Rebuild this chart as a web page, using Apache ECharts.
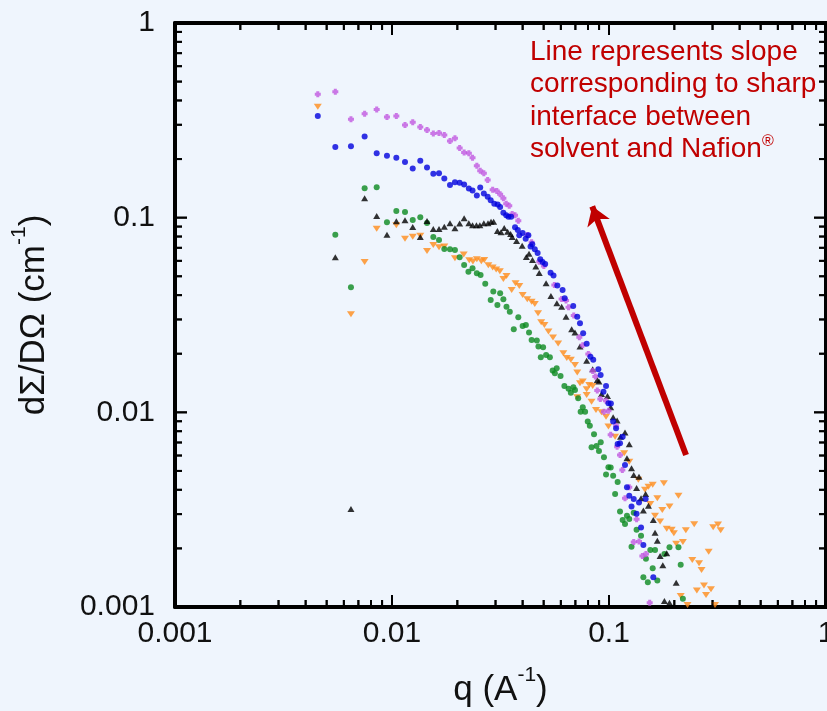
<!DOCTYPE html>
<html>
<head>
<meta charset="utf-8">
<script src="https://cdn.jsdelivr.net/npm/echarts@6/dist/echarts.min.js"></script>
<style>
  html, body { margin: 0; padding: 0; background: #eff5fd; }
  #chart { width: 827px; height: 711px; }
</style>
</head>
<body>
<div id="chart"></div>
<script>
// tick values / labels (log axes)
var xTickValues = [0.001, 0.01, 0.1, 1];
var xTickLabels = ['0.001', '0.01', '0.1', '1'];
var yTickValues = [0.001, 0.01, 0.1, 1];
var yTickLabels = ['0.001', '0.01', '0.1', '1'];

// [q, dSigma/dOmega]
var purpleData = [
  [0.00455,0.430],[0.00548,0.444],[0.00647,0.320],[0.00748,0.342],[0.0085,0.359],[0.00948,0.329],
  [0.01047,0.333],[0.01148,0.299],[0.01246,0.309],[0.0135,0.292],[0.0145,0.282],[0.0155,0.271],
  [0.01647,0.272],[0.01742,0.266],[0.0185,0.248],[0.0195,0.256],[0.0205,0.228],[0.0215,0.216],
  [0.0226,0.214],[0.0235,0.203],[0.0246,0.185],[0.0255,0.174],[0.0265,0.169],[0.0276,0.156],
  [0.0291,0.139],[0.0304,0.137],[0.0315,0.132],[0.0326,0.126],[0.0336,0.118],[0.0347,0.115],
  [0.0358,0.1045],[0.0369,0.103],[0.0382,0.0965],[0.042,0.0815],[0.044,0.0747],[0.0477,0.0594],
  [0.0501,0.0565],[0.056,0.0451],[0.0605,0.0382],[0.0634,0.0375],[0.0651,0.0347],[0.0688,0.0314],
  [0.073,0.0243],[0.0757,0.0221],[0.0803,0.01995],[0.0841,0.0163],[0.0865,0.01526],[0.0883,0.01293],
  [0.0912,0.01172],[0.0969,0.01148],[0.0948,0.01008],[0.0994,0.0102],[0.1018,0.00766],[0.1078,0.00852],
  [0.109,0.00666],[0.1124,0.00604],[0.1152,0.00506],[0.124,0.00412],[0.1185,0.00362],[0.134,0.00282],
  [0.130,0.00216],[0.1375,0.00217],[0.148,0.001874],[0.1425,0.00183],[0.154,0.001053]
];
var blueData = [
  [0.00455,0.333],[0.00548,0.231],[0.00647,0.233],[0.00748,0.261],[0.0085,0.214],[0.00948,0.208],
  [0.01047,0.203],[0.01148,0.193],[0.01246,0.179],[0.0135,0.196],[0.0145,0.181],[0.0155,0.168],
  [0.01647,0.169],[0.01742,0.159],[0.0185,0.147],[0.0195,0.152],[0.0205,0.151],[0.0215,0.148],
  [0.0226,0.141],[0.0235,0.138],[0.0246,0.130],[0.0255,0.143],[0.0265,0.133],[0.0276,0.128],
  [0.0285,0.123],[0.0296,0.118],[0.0307,0.117],[0.0315,0.1135],[0.0326,0.106],[0.0336,0.103],
  [0.0344,0.101],[0.0354,0.101],[0.0369,0.0893],[0.038,0.0865],[0.0386,0.0812],[0.04,0.0834],
  [0.0413,0.078],[0.0425,0.0812],[0.0435,0.071],[0.0443,0.073],[0.0455,0.0688],[0.0469,0.0659],
  [0.0482,0.0611],[0.0494,0.0592],[0.0508,0.0578],[0.0538,0.0522],[0.0555,0.0504],[0.0578,0.0448],
  [0.0611,0.0425],[0.0625,0.0385],[0.0684,0.0352],[0.0714,0.031],[0.0735,0.0287],[0.076,0.0255],
  [0.0789,0.0225],[0.0821,0.0193],[0.0846,0.0186],[0.0893,0.01665],[0.0915,0.01556],[0.0969,0.01366],
  [0.0943,0.01277],[0.0994,0.01113],[0.102,0.0111],[0.1045,0.00896],[0.1078,0.00829],[0.1156,0.0075],
  [0.1124,0.00694],[0.1096,0.00688],[0.1185,0.00537],[0.121,0.00412],[0.124,0.00373],[0.130,0.00359],
  [0.1375,0.00344],[0.1475,0.00359],[0.127,0.00328],[0.134,0.00301],[0.1405,0.00256],[0.144,0.00208],
  [0.160,0.00142]
];
var blackData = [
  [0.00548,0.0626],[0.00647,0.00319],[0.00748,0.1258],[0.0085,0.102],[0.00948,0.0818],[0.01047,0.0958],
  [0.01148,0.097],[0.01246,0.0896],[0.0135,0.0796],[0.0145,0.0961],[0.0155,0.0875],[0.01647,0.0875],
  [0.01742,0.0899],[0.0185,0.0936],[0.0195,0.0882],[0.0205,0.0932],[0.0215,0.0993],[0.0226,0.0936],
  [0.0235,0.0914],[0.0245,0.0914],[0.0254,0.0914],[0.0265,0.0936],[0.0277,0.0936],[0.0286,0.0954],
  [0.0294,0.0954],[0.0306,0.0855],[0.0318,0.0841],[0.0329,0.0886],[0.0341,0.0847],[0.0352,0.0825],
  [0.0358,0.0796],[0.0375,0.0759],[0.0398,0.0718],[0.0416,0.0628],[0.0428,0.0653],[0.0444,0.0606],
  [0.046,0.0562],[0.0477,0.052],[0.0513,0.046],[0.054,0.0396],[0.0575,0.0363],[0.0605,0.0349],
  [0.0634,0.031],[0.0673,0.0267],[0.0697,0.0257],[0.0735,0.0218],[0.0789,0.0184],[0.0841,0.01665],
  [0.0883,0.01467],[0.0899,0.01438],[0.0924,0.01243],[0.0984,0.01214],[0.1018,0.01062],[0.1045,0.00944],
  [0.109,0.00907],[0.1185,0.00787],[0.113,0.0075],[0.124,0.00686],[0.121,0.00581],[0.127,0.00516],
  [0.130,0.00477],[0.1375,0.00467],[0.134,0.00408],[0.1475,0.00381],[0.1405,0.00362],[0.152,0.00331],
  [0.144,0.00313],[0.160,0.0028],[0.163,0.00241],[0.167,0.00219],[0.1845,0.00189],[0.172,0.00183],
  [0.177,0.00164],[0.204,0.001334],[0.18,0.001075],[0.19,0.001053]
];
var greenData = [
  [0.00548,0.0818],[0.00647,0.0439],[0.00748,0.1416],[0.0085,0.1432],[0.00948,0.0947],[0.01047,0.1082],
  [0.01148,0.107],[0.01246,0.0973],[0.0135,0.1005],[0.0145,0.0939],[0.0155,0.0796],[0.01647,0.0768],
  [0.01742,0.0691],[0.0185,0.0689],[0.0195,0.0683],[0.0205,0.0626],[0.0215,0.0572],[0.0225,0.0528],
  [0.0235,0.055],[0.0246,0.0518],[0.0256,0.0507],[0.0269,0.0457],[0.0285,0.0378],[0.0293,0.0417],
  [0.0306,0.0356],[0.0315,0.0409],[0.0326,0.0381],[0.0337,0.0349],[0.0349,0.0329],[0.0364,0.0267],
  [0.0382,0.0308],[0.04,0.0278],[0.0414,0.0281],[0.0428,0.0257],[0.044,0.0235],[0.0465,0.0234],
  [0.0473,0.0218],[0.0485,0.0192],[0.0497,0.0216],[0.0513,0.0197],[0.0534,0.0192],[0.055,0.01638],
  [0.0563,0.01588],[0.0574,0.01684],[0.0598,0.01538],[0.0623,0.01366],[0.0651,0.01323],[0.0667,0.01262],
  [0.0685,0.01345],[0.0697,0.01303],[0.0721,0.01181],[0.0757,0.01062],[0.074,0.01008],[0.0776,0.01008],
  [0.0798,0.00896],[0.0816,0.00852],[0.0853,0.00772],[0.0916,0.00702],[0.0876,0.00672],[0.0831,0.00662],
  [0.0899,0.00633],[0.0948,0.00588],[0.0994,0.00522],[0.1018,0.0052],[0.1045,0.00473],[0.0969,0.00479],
  [0.1096,0.00439],[0.1067,0.00381],[0.1124,0.00309],[0.1156,0.0028],[0.121,0.00294],[0.124,0.00283],
  [0.1185,0.00267],[0.130,0.00305],[0.134,0.00249],[0.1405,0.00232],[0.127,0.00204],[0.148,0.00177],
  [0.155,0.00196],[0.163,0.00196],[0.18,0.00187],[0.19,0.00203],[0.209,0.00203],[0.214,0.00165],
  [0.159,0.00158],[0.144,0.00142],[0.151,0.00134],[0.167,0.00137],[0.219,0.001104]
];
var orangeData = [
  [0.00455,0.3716],[0.00647,0.0319],[0.00748,0.0592],[0.0085,0.0878],[0.01047,0.0914],[0.01148,0.0779],
  [0.01246,0.0799],[0.0135,0.0808],[0.0145,0.0675],[0.0155,0.0724],[0.01647,0.0705],[0.01742,0.0711],
  [0.0195,0.0619],[0.0214,0.0646],[0.0227,0.0605],[0.0236,0.0596],[0.0246,0.0612],[0.0258,0.0597],
  [0.0266,0.0606],[0.0278,0.057],[0.0291,0.0555],[0.0302,0.0541],[0.0314,0.0531],[0.0326,0.0484],
  [0.0337,0.0502],[0.0356,0.0425],[0.0371,0.046],[0.0386,0.0446],[0.04,0.0401],[0.042,0.0381],
  [0.044,0.037],[0.0455,0.036],[0.0471,0.0323],[0.0487,0.029],[0.0504,0.0281],[0.0526,0.026],
  [0.0552,0.0242],[0.0583,0.0226],[0.0616,0.0201],[0.0639,0.019],[0.0667,0.0186],[0.0697,0.0175],
  [0.0714,0.016],[0.0757,0.01438],[0.0735,0.01411],[0.0789,0.01314],[0.0811,0.01383],[0.0841,0.01366],
  [0.0714,0.01195],[0.0789,0.01228],[0.0831,0.01135],[0.0871,0.01029],[0.0923,0.01001],[0.0969,0.0095],
  [0.0994,0.00845],[0.1067,0.0075],[0.1175,0.00617],[0.124,0.00558],[0.1365,0.0045],[0.1465,0.004],
  [0.152,0.00415],[0.159,0.00424],[0.179,0.00432],[0.167,0.00362],[0.155,0.00338],[0.163,0.00294],
  [0.172,0.00275],[0.19,0.00328],[0.209,0.00373],[0.176,0.00315],[0.1845,0.00252],[0.1945,0.00249],
  [0.199,0.00239],[0.204,0.00211],[0.219,0.00216],[0.226,0.00248],[0.247,0.00266],[0.302,0.00257],
  [0.318,0.00265],[0.327,0.00248],[0.288,0.001925],[0.242,0.001745],[0.26,0.00168],[0.267,0.00155],
  [0.274,0.001288],[0.295,0.001234],[0.254,0.001214],[0.28,0.001154],[0.214,0.00114],[0.23,0.001025],
  [0.308,0.001025]
];

// slope arrow: tail and head in data coordinates
var arrowTail = [0.2265, 0.00604];
var arrowHead = [0.0837, 0.1143];

var FONT = "'Liberation Sans', Arial, sans-serif";
var MAJOR_LEN = 12, MINOR_LEN = 7;

function minorOf(values) {
  var out = [];
  for (var i = 0; i < values.length - 1; i++) {
    for (var k = 2; k <= 9; k++) out.push(values[i] * k);
  }
  return out;
}
function labelFor(values, labels) {
  return function (v) {
    for (var i = 0; i < values.length; i++) {
      if (Math.abs(Math.log10(values[i]) - Math.log10(v)) < 1e-6) return labels[i];
    }
    return '';
  };
}

var xLo = xTickValues[0], xHi = xTickValues[xTickValues.length - 1];
var yLo = yTickValues[0], yHi = yTickValues[yTickValues.length - 1];

// inward tick marks drawn as thin rect symbols sitting on the frame
var tickItems = [];
function addX(v, len) {
  tickItems.push({ value: [v, yLo], symbolSize: [2, len], symbolOffset: [0, -len / 2] });
  tickItems.push({ value: [v, yHi], symbolSize: [2, len], symbolOffset: [0, len / 2] });
}
function addY(v, len) {
  tickItems.push({ value: [xLo, v], symbolSize: [len, 2], symbolOffset: [len / 2, 0] });
  tickItems.push({ value: [xHi, v], symbolSize: [len, 2], symbolOffset: [-len / 2, 0] });
}
xTickValues.forEach(function (v) { addX(v, MAJOR_LEN); });
minorOf(xTickValues).forEach(function (v) { addX(v, MINOR_LEN); });
yTickValues.forEach(function (v) { addY(v, MAJOR_LEN); });
minorOf(yTickValues).forEach(function (v) { addY(v, MINOR_LEN); });

var nameStyle = { fontSize: 35, fontFamily: FONT, color: '#111', lineHeight: 50,
  rich: { sup: { fontSize: 21, fontFamily: FONT, color: '#111', verticalAlign: 'top' } } };
function frameLine() { return { show: true, onZero: false, lineStyle: { color: '#000', width: 4 } }; }

var chart = echarts.init(document.getElementById('chart'));
chart.setOption({
  animation: false,
  backgroundColor: '#eff5fd',
  grid: { left: 175, top: 23, width: 651, height: 584,
          outerBounds: { left: -400, top: -400, right: -400, bottom: -400 } },
  xAxis: [{
    type: 'log', logBase: 10, min: xLo, max: xHi, position: 'bottom',
    axisLine: frameLine(), axisTick: { show: false }, splitLine: { show: false },
    axisLabel: { customValues: xTickValues, formatter: labelFor(xTickValues, xTickLabels),
      fontSize: 30, fontFamily: FONT, color: '#111', margin: 12 },
    name: 'q (A{sup|-1})', nameLocation: 'middle', nameGap: 58, nameTextStyle: nameStyle
  }, {
    type: 'log', logBase: 10, min: xLo, max: xHi, position: 'top',
    axisLine: frameLine(), axisTick: { show: false }, axisLabel: { show: false }, splitLine: { show: false }
  }],
  yAxis: [{
    type: 'log', logBase: 10, min: yLo, max: yHi, position: 'left',
    axisLine: frameLine(), axisTick: { show: false }, splitLine: { show: false },
    axisLabel: { customValues: yTickValues, formatter: labelFor(yTickValues, yTickLabels),
      fontSize: 30, fontFamily: FONT, color: '#111', margin: 20 },
    name: 'd\u03A3/D\u03A9 (cm{sup|-1})', nameLocation: 'middle', nameGap: 116, nameTextStyle: nameStyle
  }, {
    type: 'log', logBase: 10, min: yLo, max: yHi, position: 'right',
    axisLine: frameLine(), axisTick: { show: false }, axisLabel: { show: false }, splitLine: { show: false }
  }],
  series: [
    { name: 'orange', type: 'scatter', data: orangeData, symbol: 'triangle', symbolRotate: 180,
      symbolSize: [8, 6], itemStyle: { color: '#ff8c1a' } },
    { name: 'green', type: 'scatter', data: greenData, symbol: 'circle', symbolSize: 6,
      itemStyle: { color: '#0b8a1f' } },
    { name: 'black', type: 'scatter', data: blackData, symbol: 'triangle', symbolSize: [7, 6],
      itemStyle: { color: '#000' } },
    { name: 'purple', type: 'scatter', data: purpleData,
      symbol: 'path://M1,0H3V1H4V3H3V4H1V3H0V1H1Z', symbolSize: 6,
      itemStyle: { color: '#c058e0' } },
    { name: 'blue', type: 'scatter', data: blueData, symbol: 'circle', symbolSize: 6,
      itemStyle: { color: '#0000dd' } },
    { name: 'slope', type: 'scatter', data: [],
      markLine: {
        animation: false,
        symbol: ['none', 'arrow'], symbolSize: 18,
        label: { show: false },
        lineStyle: { color: '#c00000', width: 6, type: 'solid', opacity: 1 },
        data: [[{ coord: arrowTail }, { coord: arrowHead }]]
      } },
    { name: 'ticks', type: 'scatter', data: tickItems, symbol: 'rect', clip: false,
      itemStyle: { color: '#000' } }
  ]
});

// same ticks again as plain rects, placed through the chart's log scales
function px(pt) { return chart.convertToPixel({ xAxisIndex: 0, yAxisIndex: 0 }, pt); }
var graphics = tickItems.map(function (it) {
  var p = px(it.value);
  var x = p[0] + it.symbolOffset[0], y = p[1] + it.symbolOffset[1];
  var w = it.symbolSize[0], h = it.symbolSize[1];
  return { type: 'rect', shape: { x: x - w / 2, y: y - h / 2, width: w, height: h },
           style: { fill: '#000' } };
});
graphics.push({
  type: 'text', left: 530, top: 36,
  style: {
    text: 'Line represents slope\ncorresponding to sharp\ninterface between\nsolvent and Nafion{r|\u00AE}',
    fontSize: 28, fontFamily: FONT, fill: '#c00000', lineHeight: 32.5,
    rich: { r: { fontSize: 16, fontFamily: FONT, fill: '#c00000', verticalAlign: 'top' } }
  }
});
chart.setOption({ graphic: graphics });
</script>
</body>
</html>
